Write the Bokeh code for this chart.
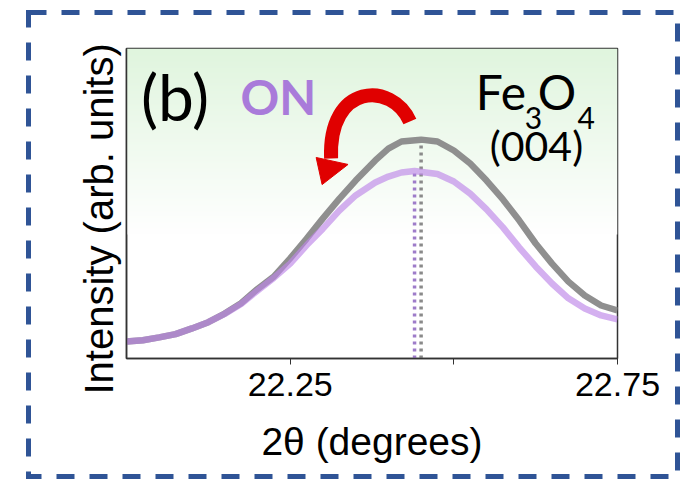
import numpy as np
from urllib.parse import quote
from bokeh.plotting import figure
from bokeh.models import Range1d, FixedTicker, Label, Title
from bokeh.embed import file_html
from bokeh.resources import INLINE

# ---- data ----
two_theta_off = [22.00, 22.025, 22.05, 22.075, 22.10, 22.125, 22.15, 22.175, 22.20, 22.225,
                 22.25, 22.275, 22.30, 22.325, 22.35, 22.38, 22.40, 22.42, 22.45, 22.475,
                 22.50, 22.525, 22.55, 22.575, 22.60, 22.625, 22.65, 22.675, 22.70,
                 22.725, 22.75]
intensity_off = [5.5, 5.9, 6.8, 7.85, 9.7, 11.7, 14.5, 17.8, 22.4, 26.4,
                 32.3, 38.6, 45.2, 51.5, 57.4, 63.9, 67.7, 70.0, 70.6, 70.0,
                 67.1, 62.9, 57.4, 51.3, 44.5, 37.1, 30.6, 24.8, 20.3,
                 17.1, 15.5]

two_theta_on = [22.00, 22.025, 22.05, 22.075, 22.10, 22.125, 22.15, 22.175, 22.20, 22.225,
                22.25, 22.275, 22.30, 22.325, 22.35, 22.38, 22.40, 22.42, 22.44, 22.475,
                22.50, 22.525, 22.55, 22.575, 22.60, 22.625, 22.65, 22.675, 22.70,
                22.725, 22.75]
intensity_on = [5.5, 5.9, 6.8, 7.85, 9.7, 11.7, 14.4, 17.6, 21.9, 26.0,
                30.6, 36.5, 41.9, 47.7, 52.6, 56.8, 58.7, 60.0, 60.5, 59.5,
                57.1, 53.2, 48.1, 42.3, 35.8, 29.7, 24.2, 19.4, 16.1,
                13.9, 12.6]

peak_pos = [22.45, 22.44]        # OFF (gray), ON (purple)
peak_height = [70.6, 60.5]

x_ticks = [22.25, 22.5, 22.75]
x_tick_labels = {22.5: ""}

GRAY = "#8F8F8F"
PURPLE = "#BD86E8"
RED = "#E00000"

W, H = 687, 479
border_svg = (
    f"<svg xmlns='http://www.w3.org/2000/svg' width='{W}' height='{H}'>"
    "<rect x='28.5' y='12.5' width='649' height='464' fill='none' "
    "stroke='#2F5496' stroke-width='5' stroke-dasharray='18 15'/></svg>"
)
bg = 'url("data:image/svg+xml,' + quote(border_svg) + '")'

p = figure(width=W, height=H,
           x_range=Range1d(22.0, 22.75), y_range=Range1d(0, 100),
           output_backend="svg", toolbar_location=None,
           min_border_left=126, min_border_right=70,
           min_border_top=48, min_border_bottom=121)
p.styles = {"background-image": bg, "background-repeat": "no-repeat"}
p.grid.visible = False
p.background_fill_color = "white"
p.border_fill_color = None
p.outline_line_color = "#333333"
p.outline_line_width = 1.5

# green gradient background (decoration)
rows = 160
t = np.linspace(0.0, 1.0, rows)
top = np.array([224.0, 245.0, 222.0])
rgb = 255.0 * (1 - t[:, None]) + top * t[:, None]
img = np.empty((rows, 2), dtype=np.uint32)
view = img.view(dtype=np.uint8).reshape((rows, 2, 4))
view[:, :, 0] = rgb[:, 0:1]
view[:, :, 1] = rgb[:, 1:2]
view[:, :, 2] = rgb[:, 2:3]
view[:, :, 3] = 255
p.image_rgba(image=[img], x=22.0, y=40, dw=0.75, dh=60)

# dotted peak markers
p.segment(x0=[peak_pos[0]], y0=[0], x1=[peak_pos[0]], y1=[peak_height[0]],
          line_color="#8A8A8A", line_width=3.5, line_dash="3 4")
p.segment(x0=[peak_pos[1]], y0=[0], x1=[peak_pos[1]], y1=[peak_height[1]],
          line_color="#9E7CC9", line_width=3.5, line_dash="3 4")

# curves
p.line(two_theta_off, intensity_off, line_color=GRAY, line_width=6.5, line_join="round")
p.line(two_theta_on, intensity_on, line_color=PURPLE, line_width=6.5, line_alpha=0.65,
       line_join="round")

# red curved arrow (decoration)
p.bezier(x0=[22.4329], y0=[76.45], x1=[22.3125], y1=[64.5],
         cx0=[22.4055], cy0=[89.5], cx1=[22.3079], cy1=[88.8],
         line_color=RED, line_width=14)
p.patch([22.2897, 22.3384, 22.2988], [64.84, 62.6, 56.1], fill_color=RED, line_color=RED)

# axes
p.xaxis.ticker = FixedTicker(ticks=x_ticks)
p.xaxis.major_label_overrides = x_tick_labels
p.xaxis.major_label_text_font = "Liberation Sans"
p.xaxis.major_label_text_font_size = "34px"
p.xaxis.major_label_text_color = "black"
p.xaxis.major_label_standoff = 8
p.xaxis.major_tick_out = 6
p.xaxis.major_tick_in = 0
p.xaxis.minor_tick_out = 0
p.xaxis.minor_tick_in = 0
p.xaxis.axis_line_color = "#333333"
p.xaxis.axis_line_width = 1.5
p.xaxis.major_tick_line_color = "#333333"
p.xaxis.axis_label = "2θ (degrees)"
p.xaxis.axis_label_text_font = "Liberation Sans"
p.xaxis.axis_label_text_font_size = "39px"
p.xaxis.axis_label_text_font_style = "normal"
p.xaxis.axis_label_text_color = "black"
p.xaxis.axis_label_standoff = 21

p.yaxis.ticker = FixedTicker(ticks=[])
p.yaxis.major_tick_out = 0
p.yaxis.major_tick_in = 0
p.yaxis.minor_tick_out = 0
p.yaxis.minor_tick_in = 0
p.yaxis.axis_line_color = "#333333"
p.yaxis.axis_line_width = 1.5

# y axis title (starts a little below the frame bottom, like the reference)
p.add_layout(Title(text="Intensity (arb. units)", align="left", offset=-36,
                   text_font="Liberation Sans", text_font_size="40px",
                   text_font_style="normal", text_color="black", standoff=12), "left")

# in-plot annotations
def lab(x, y, text, size, color="black", style="normal"):
    p.add_layout(Label(x=x, y=y, text=text, text_font="Lato", text_font_style=style,
                       text_font_size=size, text_color=color, text_baseline="bottom",
                       text_align="left"))

lab(22.022, 72.0, "(b)", "64px")
lab(22.174, 75.2, "ON", "48px", color="#A97BDA", style="bold")
lab(22.5335, 76.8, "Fe", "48px")
lab(22.6082, 74.1, "3", "30px")
lab(22.628, 76.8, "O", "48px")
lab(22.689, 74.1, "4", "30px")
lab(22.555, 60.8, "(004)", "41px")

open("out.html", "w").write(file_html(p, INLINE))
